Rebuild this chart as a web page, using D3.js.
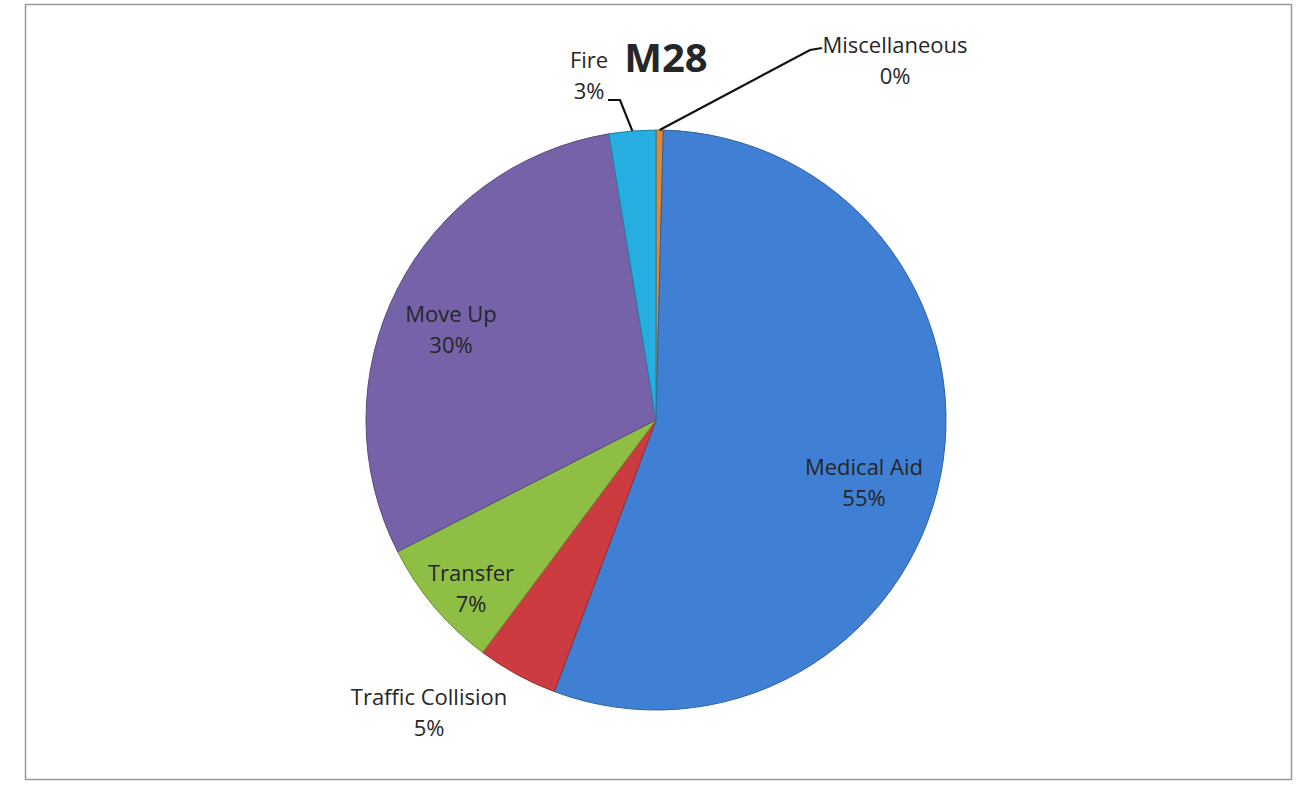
<!DOCTYPE html>
<html>
<head>
<meta charset="utf-8">
<script src="https://cdn.jsdelivr.net/npm/d3@7"></script>
<style>
  html, body { margin: 0; padding: 0; background: #fff; }
  svg { display: block; }
  text { font-family: "Open Sans", "DejaVu Sans", sans-serif; fill: #262626; }
</style>
</head>
<body>
<div id="chart"></div>
<script>
// data, clockwise from 12 o'clock
const categories = ["Miscellaneous", "Medical Aid", "Traffic Collision", "Transfer", "Move Up", "Fire"];
const shares = [0.4, 55.3, 4.5, 7.3, 29.9, 2.6];
const pctLabels = ["0%", "55%", "5%", "7%", "30%", "3%"];
const colors = ["#e8852f", "#3f80d4", "#cc3b3f", "#8fbe45", "#7662a9", "#27aee0"];
const title = "M28";

const width = 1307;
const height = 790;

const svg = d3.select("#chart").append("svg")
    .attr("width", width)
    .attr("height", height)
    .attr("viewBox", `0 0 ${width} ${height}`);

// frame
svg.append("rect")
    .attr("x", 25.5)
    .attr("y", 4.5)
    .attr("width", 1266)
    .attr("height", 775)
    .attr("fill", "none")
    .attr("stroke", "#9a9a9a")
    .attr("stroke-width", 1.5);

const cx = 656, cy = 420, radius = 290;

const data = categories.map((c, i) => ({ name: c, value: shares[i], pct: pctLabels[i], color: colors[i] }));

const pie = d3.pie().sort(null).value(d => d.value);
const arc = d3.arc().innerRadius(0).outerRadius(radius);

const g = svg.append("g").attr("transform", `translate(${cx},${cy})`);
const arcs = pie(data);

g.selectAll("path")
    .data(arcs)
    .join("path")
    .attr("d", arc)
    .attr("fill", d => d.data.color)
    .attr("stroke", d => d3.color(d.data.color).darker(0.8))
    .attr("stroke-width", 1);

// label anchors relative to the pie centre (first-line baseline)
const labelAt = {
    "Miscellaneous": { x: 239, y: -367, outside: true, bend: [154, -370], end: [166, -372] },
    "Medical Aid": { x: 208, y: 55 },
    "Traffic Collision": { x: -227, y: 285 },
    "Transfer": { x: -185, y: 161 },
    "Move Up": { x: -205, y: -98 },
    "Fire": { x: -67, y: -352, outside: true, bend: [-36, -320], end: [-48, -320] }
};

// leader lines for the small outer slices
arcs.forEach(a => {
    const L = labelAt[a.data.name];
    if (!L.outside) return;
    const mid = (a.startAngle + a.endAngle) / 2;
    const p0 = [radius * Math.sin(mid), -radius * Math.cos(mid)];
    g.append("path")
        .attr("d", d3.line()([p0, L.bend, L.end]))
        .attr("fill", "none")
        .attr("stroke", "#111")
        .attr("stroke-width", 2.2);
});

const labels = g.selectAll("g.lbl")
    .data(arcs)
    .join("g")
    .attr("class", "lbl")
    .attr("transform", d => `translate(${labelAt[d.data.name].x},${labelAt[d.data.name].y})`);

labels.append("text")
    .attr("text-anchor", "middle")
    .attr("y", 0)
    .style("font-size", "22px")
    .text(d => d.data.name);

labels.append("text")
    .attr("text-anchor", "middle")
    .attr("y", 31)
    .style("font-size", "22px")
    .text(d => d.data.pct);

svg.append("text")
    .attr("x", 666)
    .attr("y", 72)
    .attr("text-anchor", "middle")
    .style("font-size", "40px")
    .style("font-weight", "bold")
    .text(title);
</script>
</body>
</html>
